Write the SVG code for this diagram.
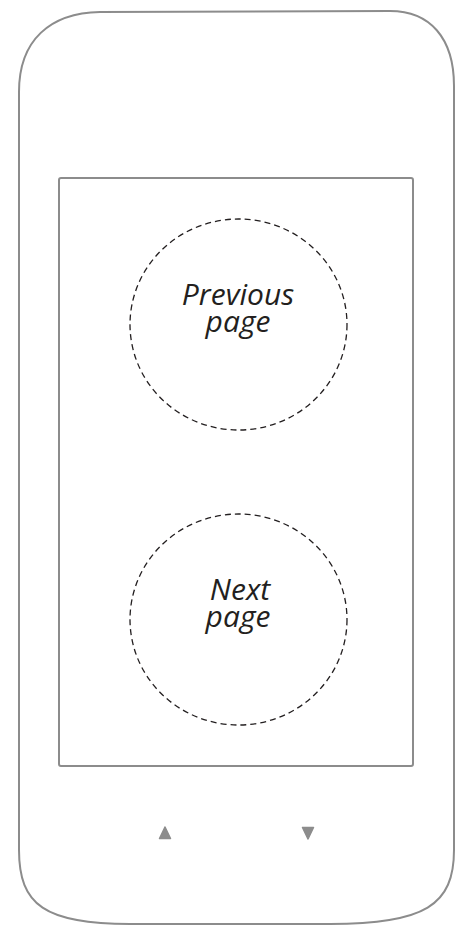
<svg xmlns="http://www.w3.org/2000/svg" width="462" height="926" viewBox="0 0 462 926">
<style>
.body{fill:#fff;stroke:#8c8c8c;stroke-width:2}
.screen{fill:#fff;stroke:#8c8c8c;stroke-width:2}
.zone{fill:none;stroke:#231f20;stroke-width:1.3;stroke-dasharray:6 4}
.lbl{font-family:"Open Sans","Noto Sans",sans-serif;font-style:italic;font-size:30px;fill:#231f20;text-anchor:middle}
.btn{fill:#8c8c8c;stroke:#8c8c8c;stroke-width:1.5;stroke-linejoin:round}
</style>
<rect width="462" height="926" fill="#fff"/>
<g id="device">
<path class="body" d="M19,92 C19,40 50,13 100,12 L390,11 C430,11 454,38 454,86 L454,850 C454,905 425,924 330,924 L130,924 C45,924 19,905 19,850 Z"/>
</g>
<g id="screen">
<rect class="screen" x="59" y="178" width="354" height="588" rx="2"/>
</g>
<g id="prev">
<ellipse class="zone" cx="238.5" cy="324.5" rx="108.5" ry="105.5"/>
<text class="lbl"><tspan x="238" y="305">Previous</tspan><tspan x="238" y="332">page</tspan></text>
</g>
<g id="next">
<ellipse class="zone" cx="238.5" cy="619.5" rx="108.5" ry="105.5"/>
<text class="lbl"><tspan x="240" y="600">Next</tspan><tspan x="238" y="627">page</tspan></text>
</g>
<g id="btn-up">
<polygon class="btn" points="165,827 159.5,838.5 170.5,838.5"/>
</g>
<g id="btn-down">
<polygon class="btn" points="302.5,827.5 313.5,827.5 308,839"/>
</g>
<g id="connectors"></g>
</svg>
